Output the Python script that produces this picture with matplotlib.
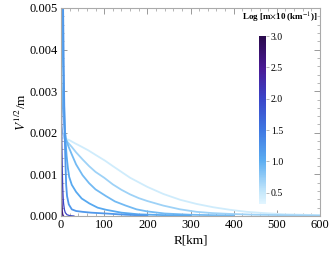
import numpy as np
import matplotlib
matplotlib.use("Agg")
import matplotlib.pyplot as plt
from matplotlib.colors import LinearSegmentedColormap, Normalize
from matplotlib.ticker import MultipleLocator
import matplotlib.cm as cm

# curves: R in km, V^(1/2)/m
logm = [0.45, 0.7, 0.9, 1.05, 1.2, 2.0, 2.5, 3.0]

r1 = [0, 10, 20, 32, 45, 63, 80, 102, 120, 140, 160, 180, 200, 237, 276, 314, 353, 391,
      430, 470, 520, 560, 600]
v1 = [0.00188, 0.00186, 0.00182, 0.00175, 0.00168, 0.00158, 0.00147, 0.00133, 0.0012,
      0.00106, 0.00092, 0.00081, 0.0007, 0.00053, 0.00039, 0.00029, 0.00021, 0.00015,
      0.0001, 0.00007, 0.00004, 0.00003, 0.00002]

r2 = [0, 4, 8, 15, 25, 35, 50, 65, 80, 100, 120, 140, 160, 180, 200, 237, 276, 314, 350,
      391, 450, 520, 600]
v2 = [0.0022, 0.002, 0.00188, 0.00178, 0.00166, 0.00153, 0.00136, 0.0012, 0.00106, 0.00092,
      0.00076, 0.00063, 0.00052, 0.00043, 0.00036, 0.00025, 0.00016, 0.0001, 0.00007,
      0.00005, 0.00003, 0.00002, 0.00001]

r3 = [0, 3, 5, 8, 12, 17, 25, 35, 50, 65, 80, 104, 125, 150, 175, 200, 240, 300, 400]
v3 = [0.0034, 0.0029, 0.0025, 0.0021, 0.00183, 0.00168, 0.00148, 0.00124, 0.00098, 0.00079,
      0.00064, 0.00048, 0.00035, 0.00025, 0.00016, 0.00011, 0.00006, 0.00003, 0.00001]

r4 = [0, 2, 4, 6, 8, 10, 13, 16, 19, 25, 35, 48, 66, 85, 104, 140, 180, 240, 300]
v4 = [0.0062, 0.0052, 0.004, 0.003, 0.0024, 0.0019, 0.00145, 0.00115, 0.00094, 0.00075,
      0.00058, 0.00042, 0.0003, 0.0002, 0.00015, 0.00008, 0.00004, 0.00002, 0.00001]

r5 = [0, 2, 3, 4, 5, 6, 7, 8, 9, 10, 12, 14, 18, 25, 35, 50, 70, 104, 150, 200]
v5 = [0.014, 0.0095, 0.0075, 0.006, 0.0049, 0.004, 0.0031, 0.0024, 0.0018, 0.0014, 0.00075,
      0.00048, 0.00028, 0.00016, 0.00012, 0.0001, 0.00008, 0.00006, 0.00003, 0.00001]

r6 = [0.5, 1, 1.5, 2, 3, 4, 5, 6, 8, 10, 14, 20, 30]
v6 = [0.0035, 0.0028, 0.0022, 0.0017, 0.0011, 0.0007, 0.00045, 0.0003, 0.00015, 0.00008,
      0.00003, 0.00001, 0.0]

r7 = [0.3, 0.6, 1, 1.5, 2, 3, 4, 6]
v7 = [0.0036, 0.0025, 0.0015, 0.0008, 0.0004, 0.00012, 0.00004, 0.0]

r8 = [0.2, 0.4, 0.7, 1, 1.5, 2.5]
v8 = [0.0034, 0.0018, 0.0007, 0.0003, 0.0001, 0.0]

curves = [(r1, v1), (r2, v2), (r3, v3), (r4, v4), (r5, v5), (r6, v6), (r7, v7), (r8, v8)]

cbar_ticks = [0.5, 1.0, 1.5, 2.0, 2.5, 3.0]

plt.rcParams['font.family'] = ['Liberation Serif', 'DejaVu Serif']
plt.rcParams['mathtext.fontset'] = 'stix'

cmap = LinearSegmentedColormap.from_list('m', [
    (0.0, '#e2f5ff'), (0.07, '#c6e8fb'), (0.26, '#5aacf1'), (0.44, '#3f78e2'),
    (0.63, '#3a44c8'), (0.81, '#4a1a95'), (1.0, '#2a0a4c')])
norm = Normalize(0.32, 3.0)

fig = plt.figure(figsize=(3.32, 2.58), dpi=100)
ax = fig.add_axes([0.1837, 0.1628, 0.7802, 0.8062])

for (r, v), lm in zip(curves, logm):
    lw = 1.3 if lm < 1.9 else 0.9
    ax.plot(r, v, color=cmap(norm(lm)), lw=lw, solid_joinstyle='round')

ax.set_xlim(0, 600)
ax.set_ylim(0, 0.005)
ax.xaxis.set_major_locator(MultipleLocator(100))
ax.xaxis.set_minor_locator(MultipleLocator(20))
ax.yaxis.set_major_locator(MultipleLocator(0.001))
ax.yaxis.set_minor_locator(MultipleLocator(0.0002))
ax.yaxis.set_major_formatter(plt.FormatStrFormatter('%.3f'))
ax.tick_params(which='both', direction='in', top=True, right=True, color='#999999',
               labelsize=9, pad=2)
ax.tick_params(which='major', length=4, width=0.7)
ax.tick_params(which='minor', length=2, width=0.5)
for s in ax.spines.values():
    s.set_color('#aaaaaa')
    s.set_linewidth(0.8)

ax.set_xlabel('R[km]', fontsize=9.5, labelpad=3)
ax.set_ylabel(r'$V^{1/2}$/m', fontsize=9.5, labelpad=1)

cax = fig.add_axes([0.780, 0.209, 0.021, 0.651])
sm = cm.ScalarMappable(norm=norm, cmap=cmap)
cb = fig.colorbar(sm, cax=cax, ticks=cbar_ticks)
cb.outline.set_visible(False)
cb.ax.yaxis.set_major_formatter(plt.FormatStrFormatter('%.1f'))
cb.ax.tick_params(labelsize=7, length=2, width=0.5, color='#999999', pad=1.5)

fig.text(0.958, 0.93, r'Log [m$\times$10 (km$^{-1}$)]', ha='right', va='center',
         fontsize=6.5, fontweight='bold')

fig.savefig('out.png', dpi=100)
